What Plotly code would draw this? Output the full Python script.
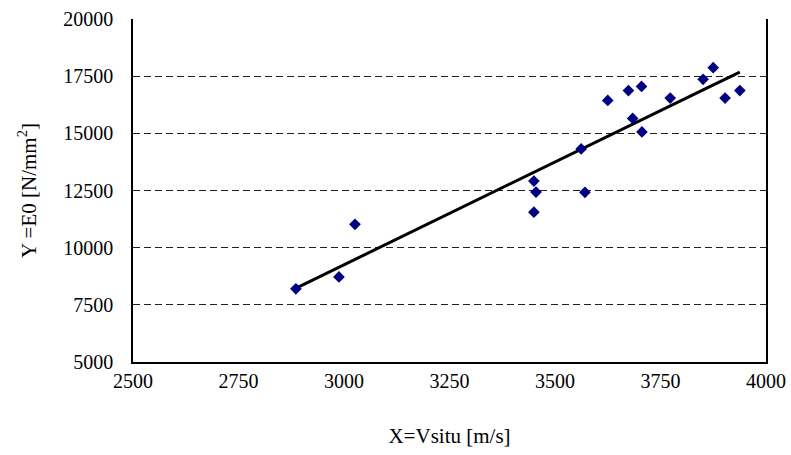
import plotly.graph_objects as go

# measured data points
vsitu = [2886, 2988, 3026, 3450, 3455, 3450, 3571, 3562, 3625, 3674, 3684, 3705, 3706, 3773, 3851, 3875, 3903, 3938]
e0 = [8200, 8720, 11020, 12910, 12430, 11550, 12420, 14320, 16440, 16870, 15650, 17050, 15060, 16540, 17360, 17870, 16540, 16870]

# trend line
line_x = [2883, 3034, 3250, 3405, 3562, 3706, 3851, 3938]
line_y = [8200, 9560, 11520, 12890, 14300, 15600, 16900, 17680]

x_ticks = [2500, 2750, 3000, 3250, 3500, 3750, 4000]
y_ticks = [5000, 7500, 10000, 12500, 15000, 17500, 20000]

fig = go.Figure()
fig.add_trace(go.Scatter(x=line_x, y=line_y, mode="lines",
                         line=dict(color="black", width=3), hoverinfo="skip"))
fig.add_trace(go.Scatter(x=vsitu, y=e0, mode="markers",
                         marker=dict(symbol="diamond", size=9, color="#000080")))

font = "Liberation Serif, Times New Roman, serif"
fig.update_layout(
    width=791, height=455,
    margin=dict(l=133, r=25, t=19, b=93, autoexpand=False),
    paper_bgcolor="white", plot_bgcolor="white",
    showlegend=False,
    font=dict(family=font, size=20, color="black"),
    xaxis=dict(range=[2500, 4000], tickvals=x_ticks, ticktext=[str(v) for v in x_ticks],
               automargin=False,
               showgrid=False, zeroline=False, showline=True, linecolor="black", linewidth=1.5,
               ticks="", tickfont=dict(size=20),
               title=dict(text="X=Vsitu [m/s]", font=dict(size=21), standoff=38)),
    yaxis=dict(range=[5000, 20000], tickvals=y_ticks, ticktext=[str(v) for v in y_ticks],
               automargin=False,
               showgrid=True, gridcolor="#222", gridwidth=1, griddash="7px,4px",
               zeroline=False, showline=True, linecolor="black", linewidth=1.5, mirror=True,
               ticks="outside", ticklen=14, tickcolor="rgba(0,0,0,0)",
               tickfont=dict(size=20),
               title=dict(text="Y =E0 [N/mm<sup>2</sup>]", font=dict(size=21), standoff=21)),
)
fig.write_html("out.html", config={"displayModeBar": False},
               post_script="document.body.style.margin='0';")
